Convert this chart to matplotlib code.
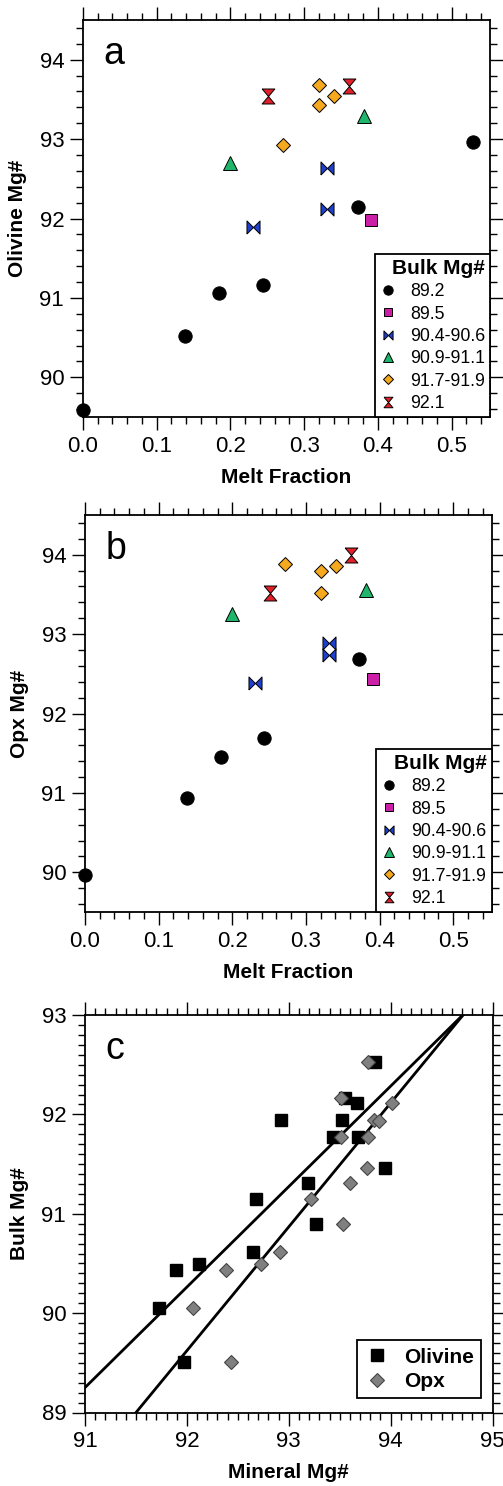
import numpy as np
import matplotlib
matplotlib.use("Agg")
import matplotlib.pyplot as plt
from matplotlib.ticker import MultipleLocator

plt.rcParams['font.family'] = ['Liberation Sans', 'DejaVu Sans']

# ---------------- data: panels a & b (melt fraction vs mineral Mg#) ----------------
groups = ["89.2", "89.5", "90.4-90.6", "90.9-91.1", "91.7-91.9", "92.1"]

mf_a_892 = [0.0, 0.138, 0.185, 0.244, 0.373, 0.529]
ol_892 = [89.59, 90.52, 91.06, 91.16, 92.15, 92.96]
mf_b_892 = [0.0, 0.139, 0.185, 0.243, 0.372]
opx_892 = [89.96, 90.94, 91.45, 91.69, 92.69]

mf_895 = [0.391]
ol_895 = [91.98]
opx_895 = [92.43]

mf_905 = [0.231, 0.331, 0.331]
ol_905 = [91.89, 92.12, 92.64]
opx_905 = [92.38, 92.74, 92.89]

mf_910 = [0.200, 0.381]
ol_910 = [92.70, 93.29]
opx_910 = [93.25, 93.56]

mf_918 = [0.271, 0.320, 0.320, 0.341]
ol_918 = [92.92, 93.68, 93.43, 93.54]
opx_918 = [93.88, 93.79, 93.52, 93.86]

mf_921 = [0.251, 0.361]
ol_921 = [93.54, 93.67]
opx_921 = [93.52, 94.00]

# ---------------- data: panel c (mineral Mg# vs bulk Mg#) ----------------
ol_c_x = [93.85, 93.55, 93.67, 92.92, 93.52, 93.43, 93.68, 93.94,
          93.19, 92.68, 93.27, 92.65, 91.89, 92.12, 91.73, 91.97]
ol_c_y = [92.53, 92.16, 92.11, 91.94, 91.94, 91.77, 91.77, 91.46,
          91.31, 91.15, 90.90, 90.62, 90.43, 90.49, 90.05, 89.51]
opx_c_x = [93.78, 93.51, 94.01, 93.84, 93.89, 93.51, 93.78, 93.77,
           93.60, 93.22, 93.53, 92.91, 92.38, 92.73, 92.06, 92.43]
opx_c_y = [92.53, 92.16, 92.11, 91.94, 91.93, 91.77, 91.77, 91.46,
           91.31, 91.15, 90.90, 90.62, 90.43, 90.49, 90.05, 89.51]

# regression lines (slope, intercept)
ol_fit = [1.011, -2.75]
opx_fit = [1.246, -25.01]

# ---------------- styles ----------------
bowtie = [(-1, -1), (-1, 1), (0, 0), (1, 1), (1, -1), (0, 0), (-1, -1)]
hourglass = [(-0.85, 1), (0.85, 1), (0, 0), (0.85, -1), (-0.85, -1), (0, 0), (-0.85, 1)]

styles = {
    "89.2": dict(marker='o', color='black', ms=9.6),
    "89.5": dict(marker='s', color='#CC1FA8', ms=9.0),
    "90.4-90.6": dict(marker=bowtie, color='#1F40CF', ms=9.4),
    "90.9-91.1": dict(marker='^', color='#1FB56A', ms=9.8),
    "91.7-91.9": dict(marker='D', color='#F5A91F', ms=7.2),
    "92.1": dict(marker=hourglass, color='#E0202A', ms=10.8),
}

W, H = 503, 1486
fig = plt.figure(figsize=(W / 100, H / 100), dpi=100)


def ax_rect(l, r, t, b):
    return [l / W, 1 - b / H, (r - l) / W, (b - t) / H]


def style_axes(ax, xmaj, xmin, ymaj, ymin):
    ax.xaxis.set_major_locator(MultipleLocator(xmaj))
    ax.xaxis.set_minor_locator(MultipleLocator(xmin))
    ax.yaxis.set_major_locator(MultipleLocator(ymaj))
    ax.yaxis.set_minor_locator(MultipleLocator(ymin))
    ax.tick_params(which='both', direction='out', top=True, right=True,
                   labeltop=False, labelright=False, width=1.0, color='black')
    ax.tick_params(which='major', length=9.5, labelsize=16, pad=4)
    ax.tick_params(which='minor', length=5)
    for s in ax.spines.values():
        s.set_linewidth(1.3)


def panel_ab(ax, data, ylabel, letter):
    for g, (xs, ys) in zip(groups, data):
        st = styles[g]
        ax.plot(xs, ys, linestyle='none', marker=st['marker'], ms=st['ms'],
                markerfacecolor=st['color'], markeredgecolor='black',
                markeredgewidth=0.7, label=g, clip_on=False, zorder=3)
    ax.set_xlim(0, 0.552)
    ax.set_ylim(89.5, 94.5)
    style_axes(ax, 0.1, 0.02, 1, 0.2)
    ax.xaxis.set_major_formatter(matplotlib.ticker.FormatStrFormatter('%.1f'))
    ax.set_xlabel("Melt Fraction", fontsize=15, fontweight='bold')
    ax.set_ylabel(ylabel, fontsize=15, fontweight='bold')
    ax.xaxis.set_label_coords(0.5, -0.128)
    ax.yaxis.set_label_coords(-0.138, 0.5)
    ax.text(0.05, 0.89, letter, transform=ax.transAxes, fontsize=27,
            va='baseline', ha='left')
    leg = ax.legend(loc='lower right', bbox_to_anchor=(1.0, 0.0),
                    borderaxespad=0, fontsize=12.8, title="Bulk Mg#",
                    title_fontproperties={'weight': 'bold', 'size': 15},
                    fancybox=False, framealpha=1, edgecolor='black',
                    markerscale=0.7, handlelength=0.9, handletextpad=0.8,
                    labelspacing=0.3, borderpad=0.28)
    leg.get_frame().set_linewidth(1.3)
    leg._legend_box.align = "right"


ax_a = fig.add_axes(ax_rect(83, 490, 20, 417))
panel_ab(ax_a, [(mf_a_892, ol_892), (mf_895, ol_895), (mf_905, ol_905),
                (mf_910, ol_910), (mf_918, ol_918), (mf_921, ol_921)],
         "Olivine Mg#", "a")

ax_b = fig.add_axes(ax_rect(85, 491.5, 515, 912))
panel_ab(ax_b, [(mf_b_892, opx_892), (mf_895, opx_895), (mf_905, opx_905),
                (mf_910, opx_910), (mf_918, opx_918), (mf_921, opx_921)],
         "Opx Mg#", "b")

# ---------------- panel c ----------------
ax_c = fig.add_axes(ax_rect(85, 492.5, 1015, 1412.5))
xl = np.array([91.0, 95.0])
ax_c.plot(xl, ol_fit[0] * xl + ol_fit[1], color='black', lw=2.0, zorder=1)
ax_c.plot(xl, opx_fit[0] * xl + opx_fit[1], color='black', lw=2.0, zorder=1)
ax_c.plot(ol_c_x, ol_c_y, linestyle='none', marker='s', ms=8.6,
          markerfacecolor='black', markeredgecolor='black', label='Olivine', zorder=3)
ax_c.plot(opx_c_x, opx_c_y, linestyle='none', marker='D', ms=7.0,
          markerfacecolor='#808080', markeredgecolor='#444444', markeredgewidth=0.8,
          label='Opx', zorder=4)
ax_c.set_xlim(91, 95)
ax_c.set_ylim(89, 93)
style_axes(ax_c, 1, 0.1, 1, 0.1)
ax_c.set_xlabel("Mineral Mg#", fontsize=15, fontweight='bold')
ax_c.set_ylabel("Bulk Mg#", fontsize=15, fontweight='bold')
ax_c.xaxis.set_label_coords(0.5, -0.128)
ax_c.yaxis.set_label_coords(-0.138, 0.5)
ax_c.text(0.05, 0.89, "c", transform=ax_c.transAxes, fontsize=27,
          va='baseline', ha='left')
legc = ax_c.legend(loc='lower right', bbox_to_anchor=(0.973, 0.036),
                   borderaxespad=0, prop={'weight': 'bold', 'size': 15},
                   fancybox=False, framealpha=1, edgecolor='black',
                   handlelength=1.2, handletextpad=0.7, labelspacing=0.25,
                   borderpad=0.35, markerscale=0.95)
legc.get_frame().set_linewidth(1.3)

fig.savefig("out.png", dpi=100)
